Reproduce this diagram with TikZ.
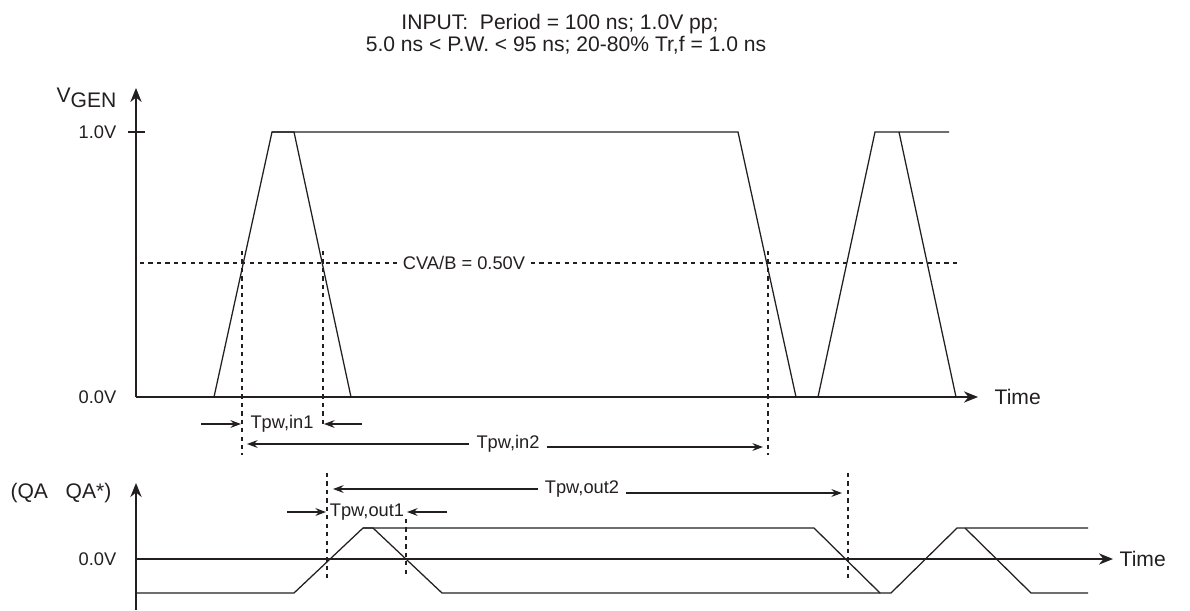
\documentclass[tikz,border=0pt]{standalone}
\usepackage{fontspec}
\setmainfont{Liberation Sans}
\usetikzlibrary{arrows.meta,positioning}
\definecolor{Ink}{HTML}{231F20}

\begin{document}
\begin{tikzpicture}[x=0.025cm,y=-0.025cm,
    wave/.style={line width=0.9pt,draw=Ink,line join=miter},
    axis/.style={line width=0.9pt,draw=Ink,-{Stealth[length=10pt,width=8pt]}},
    dim/.style={line width=0.8pt,draw=Ink,-{Stealth[length=7.5pt,width=5.5pt]}},
    guide/.style={line width=0.8pt,draw=Ink,dash pattern=on 3pt off 3pt},
    biglbl/.style={text=Ink,font=\fontsize{15}{18}\selectfont,inner sep=1pt},
    smalllbl/.style={text=Ink,font=\fontsize{13}{15}\selectfont,inner sep=1pt}
  ]
    \useasboundingbox (0,0) rectangle (1190,611);
    % title
    \node[biglbl,anchor=base] (title) at (560,30) {INPUT:\ \ Period = 100 ns; 1.0V pp;};
    \node[biglbl,anchor=base] (subtitle) at (566,52) {5.0 ns < P.W. < 95 ns; 20-80\% Tr,f = 1.0 ns};

    % input axes
    \coordinate (vorig) at (136,397);
    \coordinate (vtop) at (136,88);
    \coordinate (vend) at (978,397);
    \draw[axis] (vorig) -- (vtop);
    \draw[axis] (vorig) -- (vend);
    \draw[wave] (128,132) -- (145,132);
    \node[biglbl,anchor=base east] (vgen) at (118,103) {V\raisebox{-3.5pt}{GEN}};
    \node[smalllbl,anchor=east] (vhigh) at (118,132) {1.0V};
    \node[smalllbl,anchor=east] (vlow) at (118,397) {0.0V};
    \node[biglbl,anchor=west] (vtime) at (993,397) {Time};

    % threshold
    \node[smalllbl,inner sep=4pt] (cva) at (464,263) {CVA/B = 0.50V};
    \draw[guide] (140,263) -- (cva.west);
    \draw[guide] (cva.east) -- (957,263);

    % input pulses
    \draw[wave] (214,397) -- (272,132) -- (294,132) -- (351,397);
    \draw[wave] (272,132) -- (738,132) -- (796,397);
    \draw[wave] (818,397) -- (875,132) -- (949,132);
    \draw[wave] (899,132) -- (956,397);

    % input pulse widths
    \draw[guide] (242,251) -- (242,455);
    \draw[guide] (323,251) -- (323,427);
    \draw[guide] (768,251) -- (768,455);
    \node[smalllbl] (in1) at (282,424) {Tpw,in1};
    \coordinate (in1a) at (201,424);
    \coordinate (in1b) at (362,424);
    \draw[dim] (in1a) -- (241,424);
    \draw[dim] (in1b) -- (324,424);
    \node[smalllbl,inner sep=5pt] (in2) at (508,444) {Tpw,in2};
    \coordinate (in2a) at (247,444);
    \coordinate (in2b) at (763,447);
    \draw[dim] (in2.west) -- (in2a);
    \draw[dim] (in2.east |- in2b) -- (in2b);

    % output axes
    \coordinate (qbot) at (136,610);
    \coordinate (qtop) at (136,483);
    \coordinate (qorig) at (136,559);
    \coordinate (qend) at (1113,559);
    \draw[axis] (qbot) -- (qtop);
    \draw[axis] (qorig) -- (qend);
    \node[biglbl,anchor=east] (qa) at (113,493) {(QA\ \ \ QA*)};
    \node[smalllbl,anchor=east] (qzero) at (118,559) {0.0V};
    \node[biglbl,anchor=west] (qtime) at (1118,559) {Time};

    % output pulses
    \draw[wave] (137,593) -- (294,593) -- (363,528) -- (814,528) -- (880,593)
      -- (891,593) -- (957,528) -- (1088,528);
    \draw[wave] (363,528) -- (373,528) -- (442,593) -- (880,593);
    \draw[wave] (965,528) -- (1031,593) -- (1088,593);

    % output pulse widths
    \draw[guide] (327,473) -- (327,578);
    \draw[guide] (406,519) -- (406,578);
    \draw[guide] (848,473) -- (848,578);
    \node[smalllbl] (out1) at (367,512) {Tpw,out1};
    \coordinate (out1a) at (287,512);
    \coordinate (out1b) at (447,512);
    \draw[dim] (out1a) -- (326,512);
    \draw[dim] (out1b) -- (407,512);
    \node[smalllbl,inner sep=5pt] (out2) at (582,489) {Tpw,out2};
    \coordinate (out2a) at (333,489);
    \coordinate (out2b) at (842,493);
    \draw[dim] (out2.west) -- (out2a);
    \draw[dim] (out2.east |- out2b) -- (out2b);
  \end{tikzpicture}
\end{document}
